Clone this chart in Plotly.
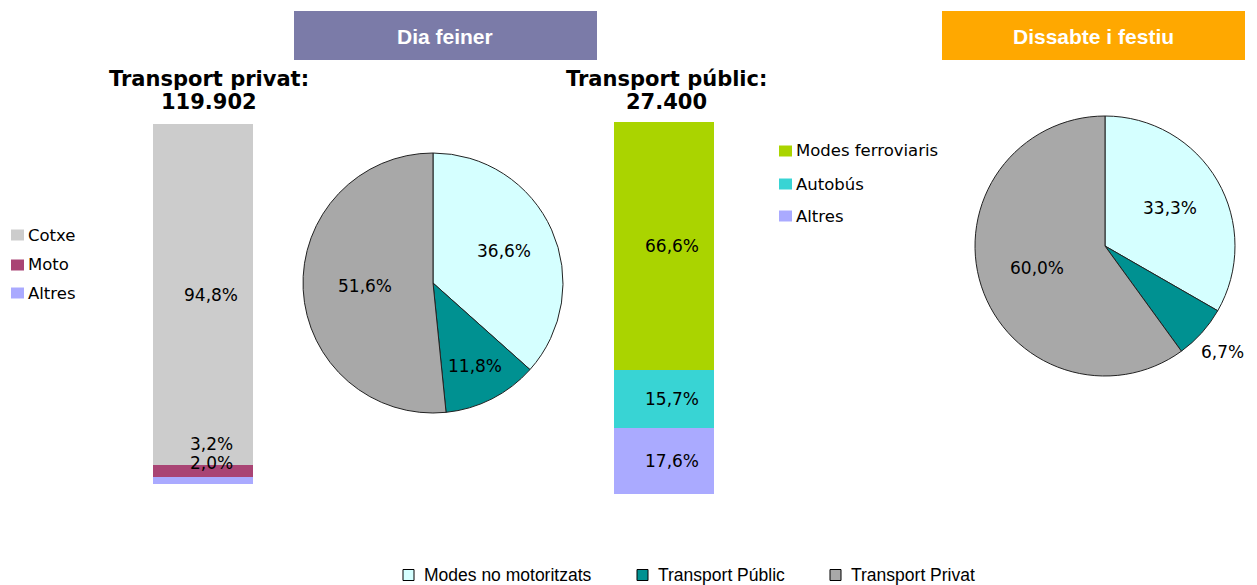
import math
import plotly.graph_objects as go

W, H = 1257, 585

# ---------------- data ----------------
priv_cats = ["Cotxe", "Moto", "Altres"]
priv_vals = [94.8, 3.2, 2.0]
priv_total = "119.902"

pub_cats = ["Modes ferroviaris", "Autobús", "Altres"]
pub_vals = [66.6, 15.7, 17.6]
pub_total = "27.400"

mode_cats = ["Modes no motoritzats", "Transport Públic", "Transport Privat"]
feiner_vals = [36.6, 11.8, 51.6]
festiu_vals = [33.3, 6.7, 60.0]

header_texts = ["Dia feiner", "Dissabte i festiu"]

# ---------------- styles ----------------
priv_colors = ["#CCCCCC", "#A94474", "#AAAAFF"]
pub_colors = ["#AAD400", "#38D4D4", "#AAAAFF"]
mode_colors = ["#D5FFFF", "#009191", "#A8A8A8"]
header_colors = ["#7B7BA8", "#FFA800"]

NUM_FONT = dict(family="DejaVu Sans", size=17, color="#000000")
LEG_FONT = dict(family="DejaVu Sans", size=16.5, color="#000000")
TITLE_FONT = dict(family="DejaVu Sans", size=21, color="#000000", weight="bold")


def px(x):
    return x / W


def py(y):
    return 1 - y / H


def fmt(v):
    return f"{v:.1f}".replace(".", ",") + "%"


def ann(x, y, text, font, xanchor="center", **kw):
    d = dict(x=px(x), y=py(y), xref="paper", yref="paper", text=text,
             showarrow=False, font=font, xanchor=xanchor, yanchor="middle")
    d.update(kw)
    return d


fig = go.Figure()
annotations = []
shapes = []

# ---------------- stacked bars ----------------
bar_specs = [
    dict(cats=priv_cats, vals=priv_vals, colors=priv_colors, xa="x", ya="y",
         box=(153, 124, 253, 484), yshift=[0, 27, 17]),
    dict(cats=pub_cats, vals=pub_vals, colors=pub_colors, xa="x2", ya="y2",
         box=(614, 122, 714, 494), yshift=[0, 0, 0]),
]
for i, b in enumerate(bar_specs):
    order = list(range(len(b["cats"])))[::-1]  # bottom segment first
    cum = 0.0
    for k in order:
        v = b["vals"][k]
        fig.add_trace(go.Bar(
            x=[0], y=[v], width=1, name=b["cats"][k],
            marker=dict(color=b["colors"][k], line=dict(width=0)),
            xaxis=b["xa"], yaxis=b["ya"], showlegend=False,
            hovertemplate=f"{b['cats'][k]}: {fmt(v)}<extra></extra>",
        ))
        annotations.append(dict(
            x=0, y=cum + v / 2, xref=b["xa"], yref=b["ya"], text=fmt(v),
            showarrow=False, font=NUM_FONT, xanchor="center", yanchor="middle",
            xshift=8, yshift=b["yshift"][k],
        ))
        cum += v
    x0, y0, x1, y1 = b["box"]
    sfx = "" if i == 0 else "2"
    fig.update_layout(**{
        f"xaxis{sfx}": dict(domain=[px(x0), px(x1)], range=[-0.5, 0.5], visible=False,
                           fixedrange=True, anchor=b["ya"]),
        f"yaxis{sfx}": dict(domain=[py(y1), py(y0)], range=[0, sum(b["vals"])],
                           visible=False, fixedrange=True, anchor=b["xa"]),
    })
fig.update_layout(barmode="stack", bargap=0)

# ---------------- pies ----------------
pie_specs = [
    dict(vals=feiner_vals, cx=433, cy=283, r=130, lf=[0.6, 0.72, 0.52]),
    dict(vals=festiu_vals, cx=1105, cy=246, r=130, lf=[0.58, 1.22, 0.55]),
]
for p in pie_specs:
    cx, cy, r = p["cx"], p["cy"], p["r"]
    fig.add_trace(go.Pie(
        labels=mode_cats, values=p["vals"], sort=False, direction="clockwise",
        rotation=0, textinfo="none", showlegend=False,
        marker=dict(colors=mode_colors, line=dict(color="#222222", width=1)),
        domain=dict(x=[px(cx - r), px(cx + r)], y=[py(cy + r), py(cy - r)]),
        hovertemplate="%{label}: %{value}%<extra></extra>",
    ))
    tot = sum(p["vals"])
    cum = 0.0
    for k, v in enumerate(p["vals"]):
        mid = (cum + v / 2) / tot
        th = 2 * math.pi * mid
        lx = cx + r * p["lf"][k] * math.sin(th)
        ly = cy - r * p["lf"][k] * math.cos(th)
        annotations.append(ann(lx, ly, fmt(v), NUM_FONT))
        cum += v

# ---------------- headers ----------------
header_boxes = [(294, 11, 597, 60), (942, 11, 1245, 60)]
for t, c, (x0, y0, x1, y1) in zip(header_texts, header_colors, header_boxes):
    shapes.append(dict(type="rect", xref="paper", yref="paper",
                       x0=px(x0), x1=px(x1), y0=py(y1), y1=py(y0),
                       fillcolor=c, line=dict(width=0), layer="below"))
    annotations.append(ann((x0 + x1) / 2, (y0 + y1) / 2 + 0.5, t,
                           dict(family="Liberation Sans", size=21,
                                color="#FFFFFF", weight="bold")))

# ---------------- bar titles ----------------
titles = [("Transport privat:", priv_total, 209), ("Transport públic:", pub_total, 666)]
for l1, l2, cx in titles:
    annotations.append(ann(cx, 79, l1, TITLE_FONT))
    annotations.append(ann(cx, 102, l2, TITLE_FONT))


# ---------------- legends (manual) ----------------
def legend_item(x_sq, y_c, color, text, font, sq=(13, 11), gap=2, border=None):
    w, h = sq
    shapes.append(dict(type="rect", xref="paper", yref="paper",
                       x0=px(x_sq), x1=px(x_sq + w), y0=py(y_c + h / 2), y1=py(y_c - h / 2),
                       fillcolor=color,
                       line=dict(width=1 if border else 0, color=border or color)))
    annotations.append(ann(x_sq + w + gap, y_c, text, font, xanchor="left"))


for k, yc in enumerate([235, 265, 293]):
    legend_item(11, yc, priv_colors[k], priv_cats[k], LEG_FONT)
for k, yc in enumerate([151, 184, 216]):
    legend_item(779, yc, pub_colors[k], pub_cats[k], LEG_FONT)

BOT_FONT = dict(family="Liberation Sans", size=17.5, color="#000000")
for k, xs in enumerate([403, 637, 830]):
    legend_item(xs, 575, mode_colors[k], mode_cats[k], BOT_FONT, sq=(11, 11), gap=8,
                border="#000000")

fig.update_layout(
    width=W, height=H, margin=dict(l=0, r=0, t=0, b=0),
    paper_bgcolor="#FFFFFF", plot_bgcolor="rgba(0,0,0,0)",
    annotations=annotations, shapes=shapes, showlegend=False,
)

fig.write_html("out.html", config={"displayModeBar": False},
               post_script="document.body.style.margin='0px';document.body.style.overflow='hidden';")
